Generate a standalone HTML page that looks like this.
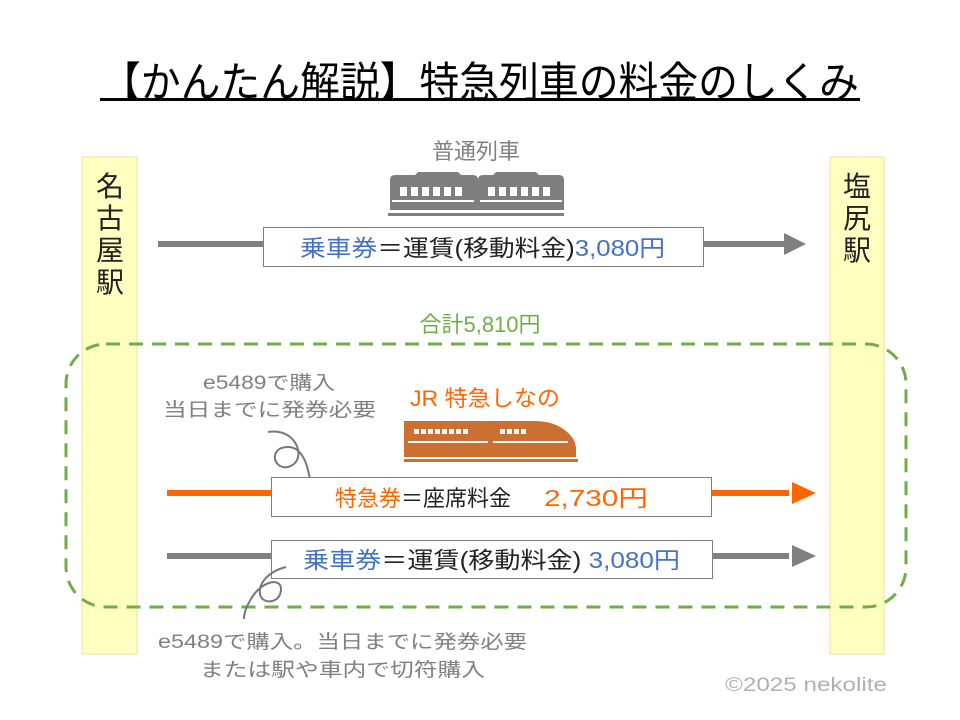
<!DOCTYPE html>
<html><head><meta charset="utf-8"><style>
html,body{margin:0;padding:0;background:#fff}
svg{display:block}
text{font-family:"Liberation Sans","Noto Sans CJK JP",sans-serif}
</style></head><body>
<svg width="960" height="720" viewBox="0 0 960 720" xmlns="http://www.w3.org/2000/svg">
<text x="480" y="97" font-size="42" text-anchor="middle" textLength="758" lengthAdjust="spacingAndGlyphs" fill="#000">【かんたん解説】特急列車の料金のしくみ</text>
<rect x="100" y="98" width="760" height="3" fill="#000"/>
<rect x="82" y="157" width="55" height="497" fill="#ffffc0" stroke="#f0e090"/>
<rect x="830" y="157" width="54" height="497" fill="#ffffc0" stroke="#f0e090"/>
<g font-size="28" fill="#222" text-anchor="middle">
<text x="110" y="196">名</text><text x="110" y="228">古</text><text x="110" y="260">屋</text><text x="110" y="292">駅</text>
<text x="857" y="196">塩</text><text x="857" y="228">尻</text><text x="857" y="260">駅</text>
</g>
<text x="476" y="159" font-size="22" fill="#808080" text-anchor="middle">普通列車</text>
<g fill="#7f7f7f">
<path d="M390 180 q0-5 5-5 h20 l3-3 h40 l3 3 h12 q5 0 5 5 v30 h-88z"/>
<path d="M478 180 q0-5 5-5 h10 l3-3 h40 l3 3 h20 q5 0 5 5 v30 h-86z"/>
<rect x="388" y="213" width="176" height="3"/>
</g>
<g fill="#fff">
<rect x="400" y="187" width="7" height="9"/><rect x="411" y="187" width="7" height="9"/><rect x="422" y="187" width="7" height="9"/><rect x="433" y="187" width="7" height="9"/><rect x="444" y="187" width="7" height="9"/><rect x="455" y="187" width="7" height="9"/>
<rect x="488" y="187" width="7" height="9"/><rect x="499" y="187" width="7" height="9"/><rect x="510" y="187" width="7" height="9"/><rect x="521" y="187" width="7" height="9"/><rect x="532" y="187" width="7" height="9"/><rect x="543" y="187" width="7" height="9"/>
<rect x="392" y="200" width="82" height="2"/><rect x="480" y="200" width="82" height="2"/>
</g>
<rect x="158" y="241" width="630" height="6" fill="#808080"/>
<polygon points="784,233 806,244 784,255" fill="#808080"/>
<rect x="263.5" y="227.5" width="440" height="39" fill="#fff" stroke="#808080"/>
<text x="300" y="256" font-size="23" textLength="365" lengthAdjust="spacingAndGlyphs"><tspan fill="#4472c4">乗車券</tspan><tspan fill="#222">＝運賃(移動料金)</tspan><tspan fill="#4472c4">3,080円</tspan></text>
<text x="480" y="332" font-size="22" fill="#70ad47" text-anchor="middle">合計5,810円</text>
<rect x="66" y="344" width="840" height="263" rx="40" fill="none" stroke="#70ad47" stroke-width="3" stroke-dasharray="14,9"/>
<text x="203" y="389" font-size="19" fill="#808080" textLength="132" lengthAdjust="spacingAndGlyphs">e5489で購入</text>
<text x="163" y="416" font-size="19" fill="#808080" textLength="213" lengthAdjust="spacingAndGlyphs">当日までに発券必要</text>
<text x="410" y="406" font-size="22" fill="#ff6600" textLength="150" lengthAdjust="spacingAndGlyphs">JR 特急しなの</text>
<path d="M268 432 c30-5 40 30 20 35 c-15 3 -20-20 0-20 c15 0 20 20 22 33" fill="none" stroke="#777" stroke-width="2"/>
<g fill="#cc6f33">
<path d="M404 421 h130 q20 0 32 10 q10 8 10 18 v8 h-172z"/>
<rect x="404" y="459" width="174" height="3"/>
</g>
<g fill="#fff">
<rect x="414" y="429" width="5" height="5"/><rect x="421" y="429" width="5" height="5"/><rect x="428" y="429" width="5" height="5"/><rect x="435" y="429" width="5" height="5"/><rect x="442" y="429" width="5" height="5"/><rect x="449" y="429" width="5" height="5"/><rect x="456" y="429" width="5" height="5"/><rect x="463" y="429" width="5" height="5"/>
<rect x="500" y="429" width="5" height="5"/><rect x="507" y="429" width="5" height="5"/><rect x="514" y="429" width="5" height="5"/><rect x="521" y="429" width="5" height="5"/>
<rect x="408" y="441" width="80" height="2"/><rect x="493" y="441" width="75" height="2"/>
</g>
<rect x="167" y="490" width="622" height="6" fill="#ff6600"/>
<polygon points="792,482 816,493 792,504" fill="#ff6600"/>
<rect x="271.5" y="477.5" width="440" height="39" fill="#fff" stroke="#808080"/>
<text x="335" y="506" font-size="22"><tspan fill="#ff6600">特急券</tspan><tspan fill="#222">＝座席料金</tspan></text>
<text x="544" y="506" font-size="23" fill="#ff6600" textLength="104" lengthAdjust="spacingAndGlyphs">2,730円</text>
<rect x="167" y="553" width="622" height="6" fill="#808080"/>
<polygon points="792,545 816,556 792,567" fill="#808080"/>
<rect x="271.5" y="540.5" width="441" height="38" fill="#fff" stroke="#808080"/>
<text x="303" y="568" font-size="23" textLength="377" lengthAdjust="spacingAndGlyphs"><tspan fill="#4472c4">乗車券</tspan><tspan fill="#222">＝運賃(移動料金) </tspan><tspan fill="#4472c4">3,080円</tspan></text>
<path d="M286 567 c-20 5 -30 20 -25 30 c5 8 20 5 20-8 c0-12-20-8-30 10 c-5 8-7 15-7 20" fill="none" stroke="#777" stroke-width="2"/>
<text x="158" y="648" font-size="19" fill="#808080" textLength="369" lengthAdjust="spacingAndGlyphs">e5489で購入。当日までに発券必要</text>
<text x="200" y="676" font-size="19" fill="#808080" textLength="285" lengthAdjust="spacingAndGlyphs">または駅や車内で切符購入</text>
<text x="725" y="691" font-size="19" fill="#b0b0b0" textLength="162" lengthAdjust="spacingAndGlyphs">©2025 nekolite</text>
</svg>
</body></html>
